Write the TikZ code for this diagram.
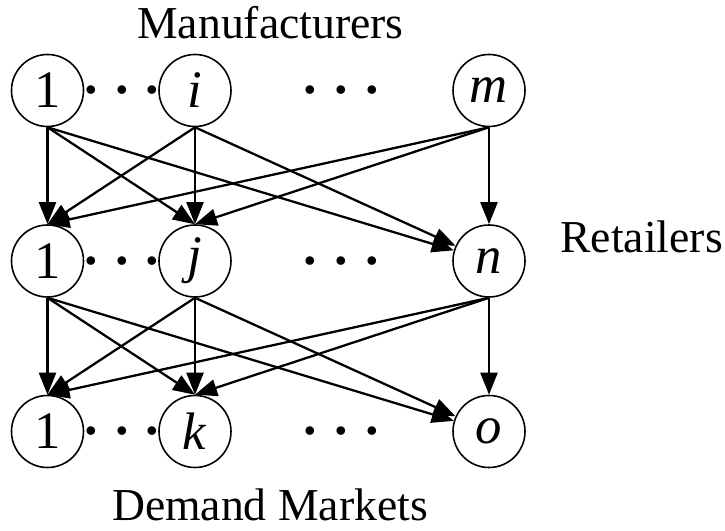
\documentclass[tikz,border=0pt]{standalone}
\usepackage{fontspec}
\setmainfont{Liberation Serif}
\usepackage{tikz}
\usetikzlibrary{arrows.meta,positioning,shapes,calc}

\begin{document}
\begin{tikzpicture}[
        site/.style={circle, draw, line width=0.9pt, minimum size=1.44cm, inner sep=0pt, font=\fontsize{30}{32}\selectfont},
        dots/.style={yshift=-0.13cm, font=\fontsize{30}{32}\selectfont\bfseries},
        title/.style={inner sep=0pt, font=\fontsize{26}{30}\selectfont},
        arrow/.style={-{Triangle[length=0.44cm,width=0.34cm]}, line width=1.3pt}
    ]
    \useasboundingbox (0,0) rectangle (14.5,10.6);
    % manufacturers
    \node[site] (m1) at (0.95,8.79) {1};
    \node[site] (mi) at (3.9,8.79) {\textit{i}};
    \node[site] (mm) at (9.78,8.79) {\textit{m}};
    \node[dots] (ma) at (2.44,8.79) {·~·~·};
    \node[dots] (mb) at (6.83,8.79) {·~·~·};
    % retailers
    \node[site] (r1) at (0.95,5.38) {1};
    \node[site] (rj) at (3.9,5.38) {\textit{j}};
    \node[site] (rn) at (9.78,5.38) {\textit{n}};
    \node[dots] (ra) at (2.44,5.38) {·~·~·};
    \node[dots] (rb) at (6.83,5.38) {·~·~·};
    % demand markets
    \node[site] (d1) at (0.95,1.97) {1};
    \node[site] (dk) at (3.9,1.97) {\textit{k}};
    \node[site] (do) at (9.78,1.97) {\textit{o}};
    \node[dots] (da) at (2.44,1.97) {·~·~·};
    \node[dots] (db) at (6.83,1.97) {·~·~·};
    % tier labels
    \node[title, anchor=base] (mt) at (5.41,9.83) {Manufacturers};
    \node[title, anchor=base west] (rt) at (11.2,5.55) {Retailers};
    \node[title, anchor=base] (dt) at (5.40,0.2) {Demand Markets};
    % manufacturers to retailers
    \draw[arrow] (m1.south) -- (r1.north);
    \draw[arrow] (m1.south) -- (rj.north);
    \draw[arrow] (m1.south) -- (rn);
    \draw[arrow] (mi.south) -- (r1.north);
    \draw[arrow] (mi.south) -- (rj.north);
    \draw[arrow] (mi.south) -- (rn);
    \draw[arrow] (mm.south) -- (r1.north);
    \draw[arrow] (mm.south) -- (rj.north);
    \draw[arrow] (mm.south) -- (rn);
    % retailers to demand markets
    \draw[arrow] (r1.south) -- (d1.north);
    \draw[arrow] (r1.south) -- (dk.north);
    \draw[arrow] (r1.south) -- (do);
    \draw[arrow] (rj.south) -- (d1.north);
    \draw[arrow] (rj.south) -- (dk.north);
    \draw[arrow] (rj.south) -- (do);
    \draw[arrow] (rn.south) -- (d1.north);
    \draw[arrow] (rn.south) -- (dk.north);
    \draw[arrow] (rn.south) -- (do);
\end{tikzpicture}
\end{document}
